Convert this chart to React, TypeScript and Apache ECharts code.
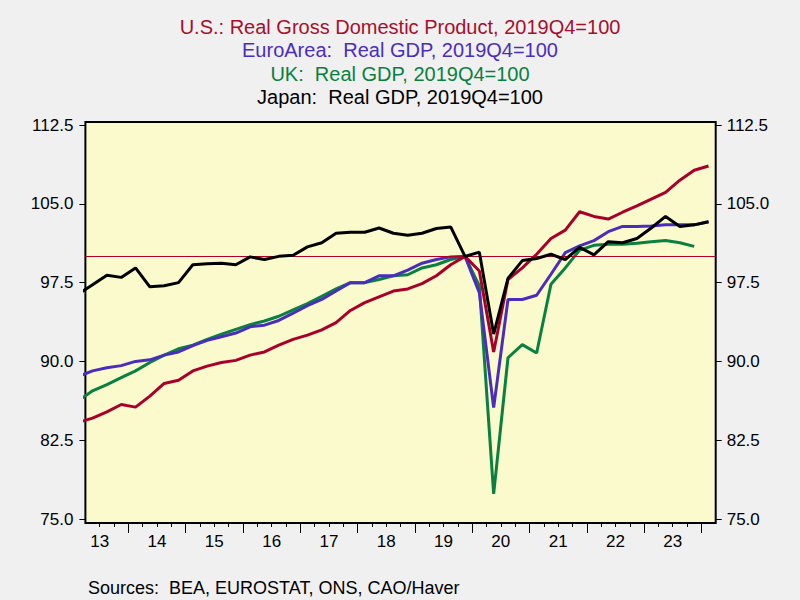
import React, { useEffect, useRef } from "react";
import * as echarts from "echarts";

const quarters = [
  "2013Q1", "2013Q2", "2013Q3", "2013Q4",
  "2014Q1", "2014Q2", "2014Q3", "2014Q4",
  "2015Q1", "2015Q2", "2015Q3", "2015Q4",
  "2016Q1", "2016Q2", "2016Q3", "2016Q4",
  "2017Q1", "2017Q2", "2017Q3", "2017Q4",
  "2018Q1", "2018Q2", "2018Q3", "2018Q4",
  "2019Q1", "2019Q2", "2019Q3", "2019Q4",
  "2020Q1", "2020Q2", "2020Q3", "2020Q4",
  "2021Q1", "2021Q2", "2021Q3", "2021Q4",
  "2022Q1", "2022Q2", "2022Q3", "2022Q4",
  "2023Q1", "2023Q2", "2023Q3", "2023Q4",
  "2024Q1",
];

const usGDP = [
  84.2, 84.6, 85.2, 85.9, 85.65, 86.7, 87.9, 88.2, 89.1, 89.55, 89.9, 90.1,
  90.6, 90.9, 91.55, 92.1, 92.5, 93.0, 93.7, 94.85, 95.6, 96.15, 96.7, 96.9,
  97.4, 98.15, 99.2, 100, 98.6, 90.9, 97.8, 98.9, 100.2, 101.7, 102.5, 104.25,
  103.8, 103.55, 104.2, 104.8, 105.45, 106.1, 107.25, 108.2, 108.6,
];

const euroGDP = [
  88.55, 89.1, 89.4, 89.6, 90.0, 90.15, 90.6, 90.9, 91.5, 92.0, 92.35, 92.7,
  93.3, 93.45, 93.9, 94.6, 95.3, 95.9, 96.7, 97.5, 97.5, 98.15, 98.15, 98.7,
  99.35, 99.7, 99.95, 100, 96.55, 85.6, 95.9, 95.9, 96.3, 98.3, 100.35, 101.0,
  101.5, 102.35, 102.85, 102.85, 102.9, 103.0, 103.0, 103.0, 103.3,
];

const ukGDP = [
  86.25, 87.2, 87.8, 88.45, 89.1, 89.9, 90.6, 91.2, 91.55, 92.1, 92.6, 93.05,
  93.5, 93.85, 94.3, 94.9, 95.5, 96.2, 96.9, 97.5, 97.5, 97.8, 98.15, 98.25,
  98.9, 99.2, 99.7, 100, 97.2, 77.4, 90.35, 91.6, 90.8, 97.35, 98.9, 100.6,
  101.05, 101.15, 101.15, 101.25, 101.4, 101.5, 101.3, 100.95,
];

const japanGDP = [
  96.4, 97.3, 98.2, 98.0, 98.9, 97.1, 97.2, 97.5, 99.2, 99.3, 99.35, 99.2,
  99.95, 99.7, 100.0, 100.1, 100.9, 101.3, 102.2, 102.3, 102.3, 102.7, 102.2, 102.0,
  102.2, 102.65, 102.8, 100, 100.4, 92.6, 97.9, 99.6, 99.8, 100.2, 99.7, 100.85,
  100.15, 101.4, 101.3, 101.7, 102.7, 103.8, 102.85, 103.0, 103.3,
];

const yTicks = [75, 82.5, 90, 97.5, 105, 112.5];
const yearLabelPos = [2013.5, 2014.5, 2015.5, 2016.5, 2017.5, 2018.5, 2019.5, 2020.5, 2021.5, 2022.5, 2023.5];
const yearTicks = [2014, 2015, 2016, 2017, 2018, 2019, 2020, 2021, 2022, 2023, 2024];
const quarterTicks = [
  2013.5, 2013.75, 2014.25, 2014.5, 2014.75, 2015.25, 2015.5, 2015.75,
  2016.25, 2016.5, 2016.75, 2017.25, 2017.5, 2017.75, 2018.25, 2018.5, 2018.75,
  2019.25, 2019.5, 2019.75, 2020.25, 2020.5, 2020.75, 2021.25, 2021.5, 2021.75,
  2022.25, 2022.5, 2022.75, 2023.25, 2023.5, 2023.75,
];

const titles = [
  { text: "U.S.: Real Gross Domestic Product, 2019Q4=100", color: "#A50F2D" },
  { text: "EuroArea:  Real GDP, 2019Q4=100", color: "#4B2DBE" },
  { text: "UK:  Real GDP, 2019Q4=100", color: "#0A8040" },
  { text: "Japan:  Real GDP, 2019Q4=100", color: "#000000" },
];
const sourceText = "Sources:  BEA, EUROSTAT, ONS, CAO/Haver";

const FONT = "'Liberation Sans', Arial, sans-serif";

const toX = (q: string) => Number(q.slice(0, 4)) + (Number(q.slice(5)) - 0.5) / 4;
const pairs = (vals: number[]) => vals.map((v, i) => [toX(quarters[i]), v]);

export default function App() {
  const ref = useRef<HTMLDivElement>(null);
  useEffect(() => {
    if (!ref.current) return;
    const chart = echarts.init(ref.current, null, { renderer: "svg" });
    const titleY = [27, 50.3, 73.6, 96.9];
    const lineSeries = (name: string, vals: number[], color: string, z: number) => ({
      type: "line",
      name,
      data: pairs(vals),
      showSymbol: false,
      symbol: "none",
      clip: true,
      z,
      lineStyle: { width: 3, color },
      itemStyle: { color },
    });
    chart.setOption({
      animation: false,
      backgroundColor: "#F0F0F0",
      textStyle: { fontFamily: FONT },
      grid: {
        left: 85.4,
        top: 122,
        width: 630.3,
        height: 401,
        show: true,
        backgroundColor: "#FAFACC",
        borderColor: "#000",
        borderWidth: 2,
        z: 0,
      },
      graphic: [
        ...titles.map((t, i) => ({
          type: "text",
          x: 400,
          y: titleY[i],
          style: {
            text: t.text,
            fill: t.color,
            font: `20px ${FONT}`,
            textAlign: "center",
            textVerticalAlign: "middle",
          },
        })),
        {
          type: "text",
          x: 88,
          y: 588,
          style: {
            text: sourceText,
            fill: "#000",
            font: `18px ${FONT}`,
            textAlign: "left",
            textVerticalAlign: "middle",
          },
        },
      ],
      xAxis: [
        {
          type: "value",
          min: 2013.25,
          max: 2024.25,
          position: "bottom",
          axisLine: { show: false },
          splitLine: { show: false },
          axisTick: {
            show: true,
            customValues: yearTicks,
            length: 10,
            inside: false,
            lineStyle: { color: "#000", width: 1 },
          },
          axisLabel: {
            customValues: yearLabelPos,
            formatter: (v: number) => String(Math.floor(v) % 100),
            color: "#000",
            fontSize: 17,
            fontFamily: FONT,
            margin: 10,
          },
        },
        {
          type: "value",
          min: 2013.25,
          max: 2024.25,
          position: "bottom",
          axisLine: { show: false },
          splitLine: { show: false },
          axisTick: {
            show: true,
            customValues: quarterTicks,
            length: 4,
            inside: false,
            lineStyle: { color: "#000", width: 1 },
          },
          axisLabel: { show: false },
        },
      ],
      yAxis: [
        {
          type: "value",
          min: 74.62,
          max: 112.79,
          position: "left",
          axisLine: { show: false },
          splitLine: { show: false },
          axisTick: {
            show: true,
            customValues: yTicks,
            length: 6,
            lineStyle: { color: "#000", width: 1 },
          },
          axisLabel: {
            customValues: yTicks,
            formatter: (v: number) => v.toFixed(1),
            color: "#000",
            fontSize: 17,
            fontFamily: FONT,
            margin: 12,
          },
        },
        {
          type: "value",
          min: 74.62,
          max: 112.79,
          position: "right",
          axisLine: { show: false },
          splitLine: { show: false },
          axisTick: {
            show: true,
            customValues: yTicks,
            length: 6,
            lineStyle: { color: "#000", width: 1 },
          },
          axisLabel: {
            customValues: yTicks,
            formatter: (v: number) => v.toFixed(1),
            color: "#000",
            fontSize: 17,
            fontFamily: FONT,
            margin: 11,
          },
        },
      ],
      series: [
        {
          type: "line",
          name: "ref",
          data: [],
          z: 1,
          markLine: {
            silent: true,
            symbol: ["none", "none"],
            label: { show: false },
            lineStyle: { color: "#B0002A", width: 1, type: "solid" },
            data: [{ yAxis: 100 }],
          },
        },
        lineSeries("UK", ukGDP, "#0A8040", 2),
        lineSeries("EuroArea", euroGDP, "#4B2DBE", 3),
        lineSeries("U.S.", usGDP, "#A8002A", 4),
        lineSeries("Japan", japanGDP, "#000000", 5),
      ],
    });
    return () => chart.dispose();
  }, []);
  return (
    <div
      ref={ref}
      style={{ position: "fixed", left: 0, top: 0, width: 800, height: 600, background: "#F0F0F0" }}
    />
  );
}
